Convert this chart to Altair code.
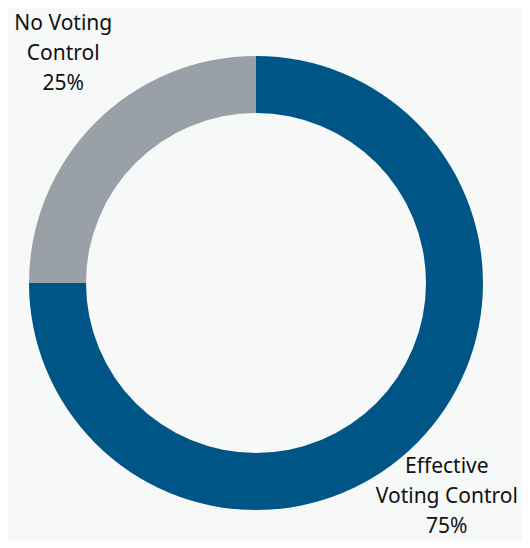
import altair as alt
import pandas as pd
import math

categories = ["Effective Voting Control", "No Voting Control"]
values = [75, 25]
labels = [["Effective", "Voting Control", "75%"], ["No Voting", "Control", "25%"]]
colors = ["#005587", "#9aa0a7"]

df = pd.DataFrame({"category": categories, "value": values, "label": labels,
                   "order": [0, 1]})

cx, cy = 248, 275
LH = 30
theta_scale = alt.Scale(domain=[0, 100], range=[0, 2 * math.pi])

arc = alt.Chart(df).mark_arc(outerRadius=227, innerRadius=170).encode(
    theta=alt.Theta("value:Q", stack=True, scale=theta_scale),
    order=alt.Order("order:Q"),
    x=alt.value(cx),
    y=alt.value(cy),
    color=alt.Color("category:N", scale=alt.Scale(domain=categories, range=colors), legend=None),
)

text_base = alt.Chart(df).transform_window(
    cum="sum(value)", sort=[alt.SortField("order")]
).transform_calculate(
    mid="datum.cum - datum.value / 2"
).encode(
    theta=alt.Theta("mid:Q", stack=None, scale=theta_scale),
    x=alt.value(cx),
    y=alt.value(cy),
    text="label",
)

text_style = dict(font="Noto Sans", fontSize=21, lineHeight=LH, align="center",
                  baseline="middle", color="#111111", dy=-LH)

text_right = text_base.mark_text(radius=287, thetaOffset=0.058, **text_style).transform_filter(
    alt.datum.category == categories[0]
)
text_left = text_base.mark_text(radius=299, thetaOffset=0.085, **text_style).transform_filter(
    alt.datum.category == categories[1]
)

chart = (arc + text_right + text_left).properties(
    width=514, height=532, background="#f7f9f9",
    padding=0,
    autosize=alt.AutoSizeParams(type="none"),
).configure_view(stroke=None)

chart.save("out.html", embed_options={"renderer": "svg", "actions": False})
